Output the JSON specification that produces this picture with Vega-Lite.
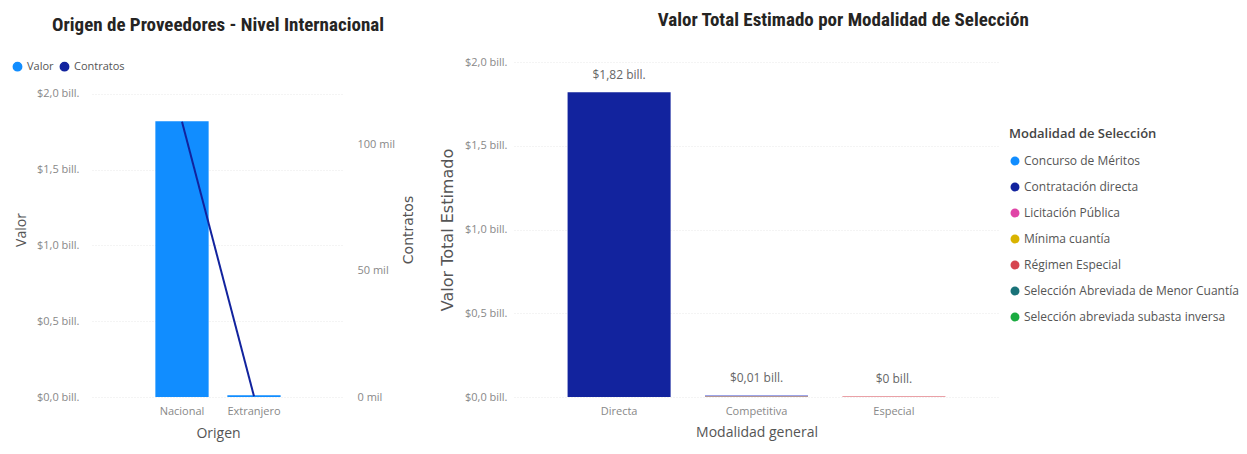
{
  "$schema": "https://vega.github.io/schema/vega-lite/v6.json",
  "background": "white",
  "padding": {"left": 12, "top": 11, "right": 5, "bottom": 5},
  "spacing": 23,
  "resolve": {"scale": {"color": "independent"}, "legend": {"color": "independent"}},
  "config": {
    "font": "Open Sans, sans-serif",
    "view": {"stroke": null},
    "axis": {
      "labelColor": "#888888",
      "labelFontSize": 11,
      "titleColor": "#555555",
      "titleFontWeight": "normal",
      "titleFontSize": 14,
      "gridColor": "#E8E8E8",
      "gridDash": [1, 2],
      "domain": false,
      "ticks": false
    },
    "title": {"font": "Liberation Sans Narrow, Roboto Condensed, Roboto, sans-serif", "fontSize": 19, "fontWeight": "bold", "color": "#252423"},
    "legend": {"labelColor": "#555555", "labelFontSize": 12, "symbolType": "circle"}
  },
  "hconcat": [
    {
      "width": 252,
      "height": 335,
      "title": {"text": "Origen de Proveedores - Nivel Internacional", "offset": 26},
      "data": {
        "values": [
          {"Origen": "Nacional", "Valor": 1.82, "Contratos": 109},
          {"Origen": "Extranjero", "Valor": 0.012, "Contratos": 0.3}
        ]
      },
      "encoding": {
        "x": {
          "field": "Origen",
          "type": "nominal",
          "sort": ["Nacional", "Extranjero"],
          "scale": {"paddingInner": 0.26, "paddingOuter": 0.88},
          "axis": {"labelAngle": 0, "title": "Origen", "grid": false, "labelPadding": 8, "titlePadding": 10}
        }
      },
      "layer": [
        {
          "mark": {"type": "bar"},
          "encoding": {
            "y": {
              "field": "Valor",
              "type": "quantitative",
              "scale": {"domain": [0, 2.211], "nice": false},
              "axis": {
                "values": [0, 0.5, 1, 1.5, 2],
                "labelExpr": "'$' + replace(format(datum.value, '.1f'), '.', ',') + ' bill.'",
                "title": "Valor",
                "labelPadding": 13,
                "titlePadding": 8
              }
            },
            "color": {
              "datum": "Valor",
              "scale": {"domain": ["Valor", "Contratos"], "range": ["#118DFF", "#12239E"]},
              "legend": {
                "title": null,
                "orient": "none",
                "legendX": -80,
                "legendY": -1,
                "direction": "horizontal",
                "symbolSize": 70,
                "columnPadding": 3,
                "labelFontSize": 11
              }
            }
          }
        },
        {
          "mark": {"type": "line", "color": "#1A237E", "strokeWidth": 2},
          "encoding": {
            "y": {
              "field": "Contratos",
              "type": "quantitative",
              "scale": {"domain": [0, 132.7], "nice": false},
              "axis": {
                "orient": "right",
                "values": [0, 50, 100],
                "labelExpr": "datum.value + ' mil'",
                "title": "Contratos",
                "titleAngle": 270,
                "titleFont": "DejaVu Sans",
                "titleFontSize": 14,
                "labelPadding": 13,
                "titlePadding": 21,
                "grid": false
              }
            },
            "color": {"datum": "Contratos"}
          }
        }
      ],
      "resolve": {"scale": {"y": "independent"}}
    },
    {
      "width": 485,
      "height": 335,
      "title": {"text": "Valor Total Estimado por Modalidad de Selección", "offset": 26, "frame": "bounds", "dx": 4},
      "data": {
        "values": [
          {"Modalidad general": "Directa", "Modalidad de Selección": "Contratación directa", "Valor": 1.82},
          {"Modalidad general": "Competitiva", "Modalidad de Selección": "Concurso de Méritos", "Valor": 0.003},
          {"Modalidad general": "Competitiva", "Modalidad de Selección": "Licitación Pública", "Valor": 0.004},
          {"Modalidad general": "Competitiva", "Modalidad de Selección": "Mínima cuantía", "Valor": 0.001},
          {"Modalidad general": "Competitiva", "Modalidad de Selección": "Selección Abreviada de Menor Cuantía", "Valor": 0.0015},
          {"Modalidad general": "Competitiva", "Modalidad de Selección": "Selección abreviada subasta inversa", "Valor": 0.0005},
          {"Modalidad general": "Especial", "Modalidad de Selección": "Régimen Especial", "Valor": 0.003}
        ]
      },
      "encoding": {
        "x": {
          "field": "Modalidad general",
          "type": "nominal",
          "sort": ["Directa", "Competitiva", "Especial"],
          "scale": {"paddingInner": 0.25, "paddingOuter": 0.39},
          "axis": {"labelAngle": 0, "title": "Modalidad general", "grid": false, "labelPadding": 8, "titlePadding": 9}
        }
      },
      "layer": [
        {
          "mark": {"type": "bar"},
          "encoding": {
            "y": {
              "field": "Valor",
              "type": "quantitative",
              "aggregate": "sum",
              "scale": {"domain": [0, 2]},
              "axis": {
                "values": [0, 0.5, 1, 1.5, 2],
                "labelExpr": "'$' + replace(format(datum.value, '.1f'), '.', ',') + ' bill.'",
                "title": "Valor Total Estimado",
                "titleFont": "DejaVu Sans",
                "titleFontSize": 16,
                "labelPadding": 7,
                "titlePadding": 9
              }
            },
            "color": {
              "field": "Modalidad de Selección",
              "type": "nominal",
              "scale": {
                "domain": ["Concurso de Méritos", "Contratación directa", "Licitación Pública", "Mínima cuantía", "Régimen Especial", "Selección Abreviada de Menor Cuantía", "Selección abreviada subasta inversa"],
                "range": ["#118DFF", "#12239E", "#E044A7", "#D9B300", "#D64550", "#197278", "#1AAB40"]
              },
              "legend": {
                "title": "Modalidad de Selección",
                "titleFontSize": 13,
                "titleFontWeight": 600,
                "titleColor": "#444444",
                "titlePadding": 14,
                "orient": "none",
                "legendX": 495,
                "legendY": 66,
                "rowPadding": 14,
                "symbolSize": 80,
                "labelFontSize": 12,
                "labelOffset": 3,
                "labelLimit": 300
              }
            }
          }
        },
        {
          "transform": [
            {"aggregate": [{"op": "sum", "field": "Valor", "as": "Total"}], "groupby": ["Modalidad general"]},
            {"calculate": "datum.Total < 0.005 ? '$0 bill.' : '$' + replace(format(datum.Total, '.2f'), '.', ',') + ' bill.'", "as": "Etiqueta"}
          ],
          "mark": {"type": "text", "dy": -17, "fontSize": 12, "color": "#666666"},
          "encoding": {
            "y": {"field": "Total", "type": "quantitative"},
            "text": {"field": "Etiqueta", "type": "nominal"}
          }
        }
      ]
    }
  ]
}
